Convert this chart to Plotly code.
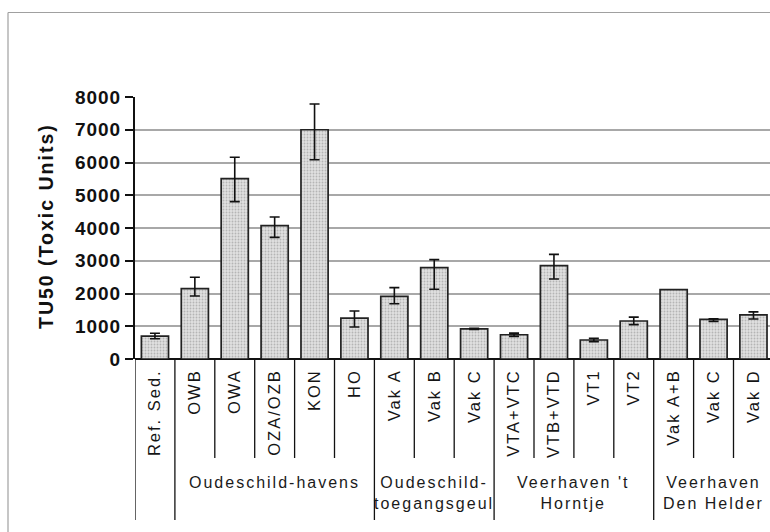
import plotly.graph_objects as go

categories = ["Ref. Sed.", "OWB", "OWA", "OZA/OZB", "KON", "HO", "Vak A", "Vak B",
              "Vak C", "VTA+VTC", "VTB+VTD", "VT1", "VT2", "Vak A+B", "Vak C", "Vak D"]
values = [700, 2150, 5510, 4070, 7000, 1250, 1910, 2790, 920, 740, 2850, 580, 1160, 2120, 1210, 1350]
err_plus = [85, 345, 650, 265, 785, 215, 270, 245, 15, 50, 345, 50, 120, None, 20, 90]
err_minus = [80, 225, 705, 355, 915, 275, 225, 660, 15, 50, 405, 50, 110, None, 60, 130]

groups = ["Oudeschild-havens", "Oudeschild-<br>toegangsgeul", "Veerhaven 't<br>Horntje", "Veerhaven<br>Den Helder"]
group_start = [1, 6, 9, 13]
group_end = [5, 8, 12, 15]

y_ticks = [0, 1000, 2000, 3000, 4000, 5000, 6000, 7000, 8000]

x = list(range(len(categories)))
FONT = "Liberation Sans, Arial, sans-serif"

fig = go.Figure()
fig.add_trace(go.Bar(
    x=x, y=values,
    marker=dict(color="#e0e0e0", line=dict(color="#222222", width=1.7),
                pattern=dict(shape=".", fgcolor="#8a8a8a", size=3, solidity=0.3)),
    width=0.68,
))

# error bars only where the chart shows them
ex = [i for i in x if err_plus[i] is not None]
fig.add_trace(go.Scatter(
    x=ex, y=[values[i] for i in ex], mode="markers",
    marker=dict(size=1, opacity=0),
    error_y=dict(type="data", symmetric=False,
                 array=[err_plus[i] for i in ex], arrayminus=[err_minus[i] for i in ex],
                 color="#111111", thickness=1.6, width=5),
    hoverinfo="skip",
))

W, H = 770, 532
L, R, T, B = 135, 0, 97, 173
pw, ph = W - L - R, H - T - B

def py(pix):
    return (H - B - pix) / ph

def px(pix):
    return (pix - L) / pw

shapes = []
short_b = py(458)
long_b = py(520)
group_bounds = {-0.5, 0.5, 5.5, 8.5, 12.5}
for b in [i - 0.5 for i in range(len(categories))]:
    shapes.append(dict(type="line", xref="x", yref="paper", x0=b, x1=b, y0=0,
                       y1=long_b if b in group_bounds else short_b,
                       line=dict(color="#111111", width=1.3)))
shapes.append(dict(type="line", xref="paper", yref="paper", x0=px(8), x1=px(770), y0=py(12.5), y1=py(12.5),
                   line=dict(color="#a0a0a0", width=1.2)))
shapes.append(dict(type="line", xref="paper", yref="paper", x0=px(8), x1=px(8), y0=py(12.5), y1=py(532),
                   line=dict(color="#a0a0a0", width=1.2)))

annotations = []
for g, s, e in zip(groups, group_start, group_end):
    annotations.append(dict(text=g, xref="x", yref="paper", x=(s + e) / 2, y=py(472),
                            xanchor="center", yanchor="top", showarrow=False,
                            font=dict(family=FONT, size=16, color="#1a1a1a")))
annotations.append(dict(text="<b>TU50 (Toxic Units)</b>", xref="paper", yref="paper",
                        x=px(46), y=py(226), xanchor="center", yanchor="middle",
                        textangle=-90, showarrow=False,
                        font=dict(family=FONT, size=19.5, color="#111111")))

fig.update_layout(
    width=W, height=H, margin=dict(l=L, r=R, t=T, b=B),
    paper_bgcolor="white", plot_bgcolor="white",
    showlegend=False, bargap=0.32,
    shapes=shapes, annotations=annotations,
    xaxis=dict(range=[-0.5, -0.5 + pw / 39.9], tickmode="array", tickvals=x, ticktext=categories,
               tickangle=-90, showgrid=False, zeroline=False, showline=False, ticks="",
               tickfont=dict(family=FONT, size=16.5, color="#151515"), ticklabelstandoff=6),
    yaxis=dict(range=[0, 8000], tickmode="array", tickvals=y_ticks,
               ticktext=["<b>%d</b>" % v for v in y_ticks],
               showgrid=True, gridcolor="#a8a8a8", gridwidth=1.5,
               showline=True, linecolor="#111111", linewidth=2,
               ticks="outside", ticklen=8, tickwidth=2, tickcolor="#111111",
               zeroline=True, zerolinecolor="#111111", zerolinewidth=2,
               tickfont=dict(family=FONT, size=19, color="#111111"), ticklabelstandoff=0),
)

post = """
document.querySelectorAll('.xtick text, .annotation-text').forEach(function(e){e.style.letterSpacing='2px';});
document.querySelectorAll('.ytick text').forEach(function(e){e.style.letterSpacing='1px';});
"""
fig.write_html("out.html", post_script=post)
